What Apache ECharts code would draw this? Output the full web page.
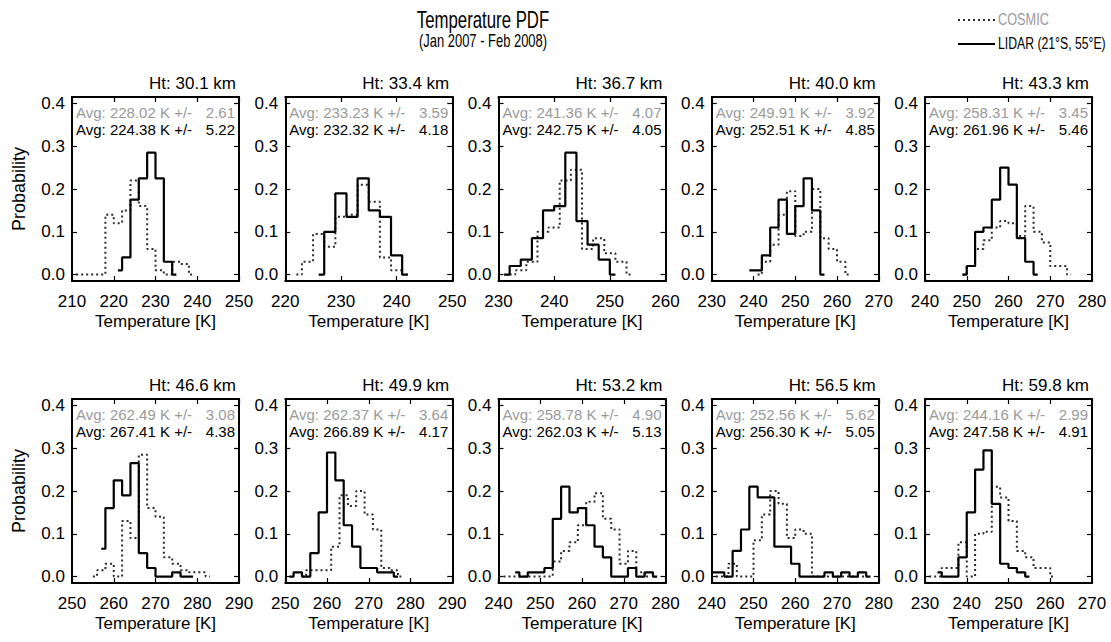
<!DOCTYPE html>
<html><head><meta charset="utf-8">
<script src="https://cdn.jsdelivr.net/npm/echarts@6/dist/echarts.min.js"></script>
<style>html,body{margin:0;padding:0;background:#fff}#c{width:1111px;height:642px}</style>
</head><body><div id="c"></div>
<script>
// ---- panel metadata ----
const heights = ['30.1','33.4','36.7','40.0','43.3','46.6','49.9','53.2','56.5','59.8'];
const xMin = [210,220,230,230,240,250,250,240,240,230];
const xMax = [250,250,260,270,280,290,290,280,280,270];
const yTicks = [0,0.1,0.2,0.3,0.4];
const binWidth = 2;
// ---- COSMIC histograms (first bin centre, probabilities) ----
const cosmicStart = [211,222,232,241,249,255,254,240,241,231];
const cosmic30 = [0,0,0,0,0.14,0.12,0.15,0.22,0.16,0.06,0.01,0,0.03,0.025,0];
const cosmic33 = [0,0.03,0.095,0.065,0.135,0.14,0.21,0.17,0.04,0.01,0];
const cosmic36 = [0,0.01,0.03,0.10,0.11,0.22,0.245,0.06,0.085,0.05,0.03,0];
const cosmic40 = [0,0.03,0.07,0.14,0.195,0.09,0.10,0.20,0.085,0.06,0.03,0];
const cosmic43 = [0,0.02,0.06,0.08,0.11,0.125,0.12,0.09,0.16,0.10,0.075,0.02,0.02,0];
const cosmic46 = [0,0.015,0.03,0,0.13,0.09,0.285,0.16,0.14,0.045,0.03,0.015,0.01,0.01,0];
const cosmic49 = [0,0.015,0.015,0.015,0.07,0.19,0.165,0.20,0.145,0.11,0.02,0.015,0];
const cosmic53 = [0,0,0,0,0,0,0,0.035,0.06,0.08,0.12,0.175,0.195,0.135,0.11,0.03,0.06,0.01,0];
const cosmic56 = [0,0,0.03,0,0,0.085,0.145,0.20,0.17,0.09,0.11,0.10,0,0,0,0,0,0,0];
const cosmic59 = [0,0,0.02,0.02,0.08,0,0.10,0.105,0.21,0.185,0.13,0.06,0.045,0.02,0.02,0];
// ---- LIDAR histograms ----
const lidarStart = [221,226,231,239,249,257,251,244,240,233];
const lidar30 = [0.01,0.04,0.175,0.225,0.285,0.225,0.03,0];
const lidar33 = [0,0.10,0.19,0.135,0.225,0.15,0.135,0.045,0];
const lidar36 = [0,0.02,0.035,0.085,0.15,0.16,0.285,0.125,0.07,0.035,0];
const lidar40 = [0.01,0.01,0.045,0.11,0.175,0.095,0.16,0.225,0.15,0];
const lidar43 = [0,0.02,0.10,0.11,0.175,0.25,0.21,0.085,0.03,0];
const lidar46 = [0.065,0.16,0.225,0.19,0.265,0.055,0.02,0,0,0.01,0,0];
const lidar49 = [0,0.01,0,0.055,0.15,0.29,0.225,0.12,0.07,0.02,0.02,0.01,0.01,0];
const lidar53 = [0.01,0,0.01,0.01,0.02,0.135,0.21,0.15,0.16,0.12,0.07,0.045,0,0,0.02,0,0.01,0];
const lidar56 = [0.01,0.01,0,0.06,0.11,0.21,0.185,0.185,0.07,0.07,0.03,0,0,0,0.01,0,0.01,0,0.01,0];
const lidar59 = [0.01,0,0,0.045,0.15,0.25,0.295,0.17,0.03,0.02,0.01,0];
// ---- averages ----
const cosmicAvg = ['228.02','233.23','241.36','249.91','258.31','262.49','262.37','258.78','252.56','244.16'];
const cosmicStd = ['2.61','3.59','4.07','3.92','3.45','3.08','3.64','4.90','5.62','2.99'];
const lidarAvg  = ['224.38','232.32','242.75','252.51','261.96','267.41','266.89','262.03','256.30','247.58'];
const lidarStd  = ['5.22','4.18','4.05','4.85','5.46','4.38','4.17','5.13','5.05','4.91'];

const cosmicProb = [cosmic30,cosmic33,cosmic36,cosmic40,cosmic43,cosmic46,cosmic49,cosmic53,cosmic56,cosmic59];
const lidarProb = [lidar30,lidar33,lidar36,lidar40,lidar43,lidar46,lidar49,lidar53,lidar56,lidar59];

// ---- layout ----
const FONT = 'Liberation Sans, Arial, Helvetica, sans-serif';
const L0 = 72, DX = 213.25, W = 167, H = 184;
const rowTop = [97, 399];
const GRAY = '#9a9a9a';
const DOT = {color:'#2a2a2a', width:2, type:[2,3]};
const SOLID = {color:'#000', width:2.2};

function pairs(start, probs){ return probs.map((p,k)=>[start + binWidth*k, p]); }

const grids=[], xAxes=[], yAxes=[], series=[], graphics=[];
const xTop=[], yRight=[];
for(let i=0;i<10;i++){
  const r=Math.floor(i/5), c=i%5;
  const left=L0+c*DX, top=rowTop[r];
  grids.push({left:left, top:top, width:W, height:H, containLabel:false});
  const axLine={show:true, onZero:false, lineStyle:{color:'#000', width:2}};
  const tick={show:true, inside:true, length:5, lineStyle:{color:'#000', width:1.2}};
  xAxes.push({gridIndex:i, type:'value', min:xMin[i], max:xMax[i], interval:10,
    axisLine:axLine, axisTick:tick, splitLine:{show:false},
    axisLabel:{show:true, fontSize:17, color:'#000', margin:12, fontFamily:FONT, showMinLabel:true, showMaxLabel:true},
    name:'Temperature [K]', nameLocation:'middle', nameGap:32,
    nameTextStyle:{fontSize:17, color:'#000', fontFamily:FONT}});
  xTop.push({gridIndex:i, type:'value', position:'top', min:xMin[i], max:xMax[i], interval:10,
    axisLine:axLine, axisTick:tick, splitLine:{show:false}, axisLabel:{show:false}});
  const yl={gridIndex:i, type:'value', min:-0.015, max:0.415,
    axisLine:axLine, splitLine:{show:false},
    axisTick:{show:true, inside:true, length:5, customValues:yTicks, lineStyle:{color:'#000', width:1.2}},
    axisLabel:{show:true, customValues:yTicks, formatter:v=>v.toFixed(1), fontSize:17, color:'#000', margin:7, fontFamily:FONT}};
  if(c===0){ yl.name='Probability'; yl.nameLocation='middle'; yl.nameGap=44;
    yl.nameTextStyle={fontSize:18, color:'#000', fontFamily:FONT}; }
  yAxes.push(yl);
  yRight.push({gridIndex:i, type:'value', position:'right', min:-0.015, max:0.415,
    axisLine:axLine, splitLine:{show:false},
    axisTick:{show:true, inside:true, length:5, customValues:yTicks, lineStyle:{color:'#000', width:1.2}},
    axisLabel:{show:false}});
  series.push({type:'line', name:'COSMIC', xAxisIndex:i, yAxisIndex:i, step:'middle', symbol:'none',
    data:pairs(cosmicStart[i], cosmicProb[i]), silent:true, z:2, lineStyle:DOT});
  series.push({type:'line', name:'LIDAR (21°S, 55°E)', xAxisIndex:i, yAxisIndex:i, step:'middle', symbol:'none',
    data:pairs(lidarStart[i], lidarProb[i]), silent:true, z:3, lineStyle:SOLID});
  const right=left+W;
  graphics.push({type:'text', x:right-3, y:top-14, style:{text:'Ht: '+heights[i]+' km', fontSize:17, fontFamily:FONT, fill:'#000', textAlign:'right', textVerticalAlign:'middle'}});
  graphics.push({type:'text', x:left+4, y:top+15, style:{text:'Avg: '+cosmicAvg[i]+' K +/-', fontSize:15, fontFamily:FONT, fill:GRAY, textAlign:'left', textVerticalAlign:'middle'}});
  graphics.push({type:'text', x:right-4, y:top+15, style:{text:cosmicStd[i], fontSize:15, fontFamily:FONT, fill:GRAY, textAlign:'right', textVerticalAlign:'middle'}});
  graphics.push({type:'text', x:left+4, y:top+32, style:{text:'Avg: '+lidarAvg[i]+' K +/-', fontSize:15, fontFamily:FONT, fill:'#000', textAlign:'left', textVerticalAlign:'middle'}});
  graphics.push({type:'text', x:right-4, y:top+32, style:{text:lidarStd[i], fontSize:15, fontFamily:FONT, fill:'#000', textAlign:'right', textVerticalAlign:'middle'}});
}
// header
graphics.push({type:'text', x:483, y:19, scaleX:0.7, style:{text:'Temperature PDF', fontSize:24, fontFamily:FONT, fill:'#000', textAlign:'center', textVerticalAlign:'middle'}});
graphics.push({type:'text', x:483, y:41, scaleX:0.72, style:{text:'(Jan 2007 - Feb 2008)', fontSize:18, fontFamily:FONT, fill:'#000', textAlign:'center', textVerticalAlign:'middle'}});
// legend key
graphics.push({type:'line', shape:{x1:958, y1:20, x2:995, y2:20}, style:{stroke:DOT.color, lineWidth:DOT.width, lineDash:DOT.type}});
graphics.push({type:'text', x:998, y:19, scaleX:0.75, style:{text:'COSMIC', fontSize:17, fontFamily:FONT, fill:GRAY, textAlign:'left', textVerticalAlign:'middle'}});
graphics.push({type:'line', shape:{x1:958, y1:44, x2:995, y2:44}, style:{stroke:'#000', lineWidth:2.2}});
graphics.push({type:'text', x:998, y:43, scaleX:0.72, style:{text:'LIDAR (21°S, 55°E)', fontSize:17, fontFamily:FONT, fill:'#000', textAlign:'left', textVerticalAlign:'middle'}});

const chart = echarts.init(document.getElementById('c'), null, {renderer:'svg'});
chart.setOption({
  animation:false,
  backgroundColor:'#fff',
  grid:grids,
  xAxis:xAxes.concat(xTop),
  yAxis:yAxes.concat(yRight),
  series:series,
  graphic:graphics
});
</script></body></html>
